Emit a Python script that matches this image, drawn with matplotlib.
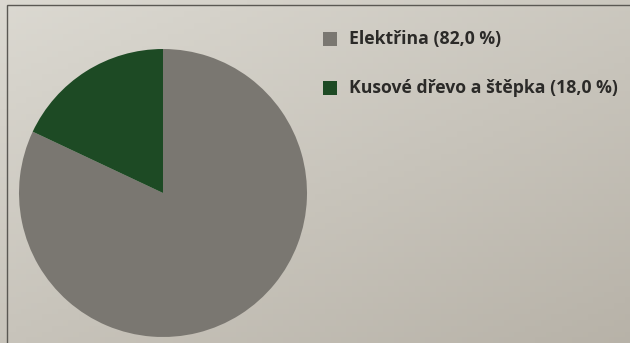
import matplotlib
matplotlib.use("Agg")
import matplotlib.pyplot as plt
import numpy as np
from matplotlib.patches import Rectangle

# data
labels = ["Elektřina", "Kusové dřevo a štěpka"]
shares = [82.0, 18.0]
colors = ["#7a7771", "#1d4a24"]

W, H = 630, 343
fig = plt.figure(figsize=(W / 100, H / 100), dpi=100)

# photographed paper background (lighter at top-left, darker bottom-right)
bg = fig.add_axes([0, 0, 1, 1], zorder=0)
gy, gx = np.mgrid[0:1:60j, 0:1:120j]
shade = 0.55 * gy + 0.45 * gx
c0 = np.array([0.86, 0.85, 0.82])
c1 = np.array([0.72, 0.70, 0.66])
img = c0[None, None, :] * (1 - shade[..., None]) + c1[None, None, :] * shade[..., None]
bg.imshow(img, aspect="auto", extent=[0, 1, 0, 1], origin="upper")
bg.set_xlim(0, 1)
bg.set_ylim(0, 1)
bg.axis("off")

# chart frame (only top and left edges are in the photo)
fig.patches.append(Rectangle((7 / W, -0.1), 1.2, (H - 5) / H + 0.1,
                             transform=fig.transFigure, fill=False,
                             edgecolor="#5a5853", linewidth=1.0, zorder=1))

# pie: centre (163, 193) px, radius 144 px
cx, cy, r = 163, 193, 144
ax = fig.add_axes([(cx - r) / W, (H - cy - r) / H, 2 * r / W, 2 * r / H], zorder=2)
wedges, _ = ax.pie(shares, colors=colors, startangle=90, counterclock=False,
                   wedgeprops=dict(linewidth=0))
ax.set_xlim(-1, 1)
ax.set_ylim(-1, 1)
ax.axis("off")

# legend
for i, (lab, val, col) in enumerate(zip(labels, shares, colors)):
    ym = 39 + i * 49
    fig.patches.append(Rectangle((323 / W, 1 - (ym + 7) / H), 14 / W, 14 / H,
                                 transform=fig.transFigure, facecolor=col,
                                 edgecolor="none", zorder=3))
    txt = f"{lab} ({val:.1f} %)".replace(".", ",")
    fig.text(349 / W, 1 - ym / H, txt, ha="left", va="center",
             fontsize=12.7, fontweight="bold", color="#2b2a28",
             family=["Open Sans", "DejaVu Sans"], zorder=3)

fig.savefig("out.png", dpi=100)
